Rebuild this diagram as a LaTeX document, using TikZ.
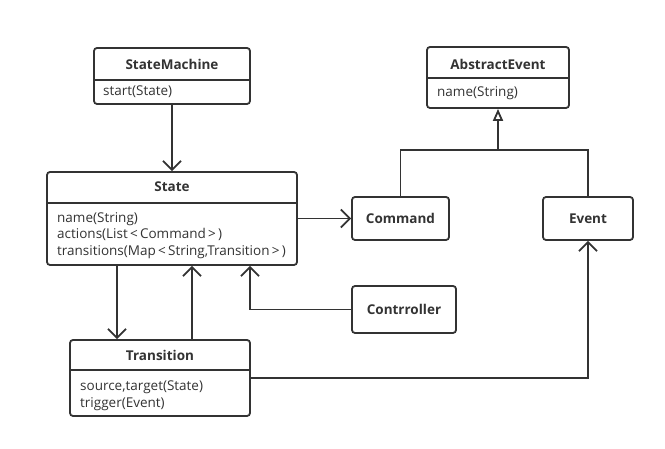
\documentclass[tikz,border=0pt]{standalone}
\usepackage{fontspec}
\setmainfont{Open Sans}
\usetikzlibrary{arrows.meta}
\definecolor{lc}{HTML}{333333}
\tikzset{
  box/.style={draw=lc, line width=1.8pt, rounded corners=3pt, inner sep=0pt, fill=white},
  ttl/.style={font=\bfseries\fontsize{13.5}{15}\selectfont, text=lc, inner sep=0pt},
  attr/.style={font=\fontsize{13.5}{16.5}\selectfont, text=lc, anchor=west, align=left, inner sep=0pt},
  divider/.style={draw=lc, line width=1.8pt},
  line/.style={draw=lc, line width=1.8pt},
  conn/.style={line, -{Straight Barb[length=9pt,width=18pt,line width=1.8pt]}},
  inherit/.style={line, -{Triangle[open,length=12pt,width=10pt,line width=1.8pt,fill=white]}},
}
\begin{document}
\begin{tikzpicture}[x=1pt,y=-1pt]
\useasboundingbox[fill=white] (0,0) rectangle (665,449);
% StateMachine
\node[box, minimum width=156pt, minimum height=56pt] (sm) at (172,76) {};
\node[ttl] (smt) at (172,64) {StateMachine};
\coordinate (smd) at (0,80);
\draw[divider] (sm.west |- smd) -- (sm.east |- smd);
\node[attr] (sma) at (103,92) {start(State)};
% State
\node[box, minimum width=250pt, minimum height=93pt] (st) at (172,218.5) {};
\node[ttl] (stt) at (172,187) {State};
\coordinate (std) at (0,203);
\draw[divider] (st.west |- std) -- (st.east |- std);
\node[attr] (sta) at (57,235.5) {name(String)\\actions(List\,<\,Command\,>\,)\\transitions(Map\,<\,String,Transition\,>\,)};
% Transition
\node[box, minimum width=180pt, minimum height=76pt] (tr) at (160,378) {};
\node[ttl] (trt) at (160,355) {Transition};
\coordinate (trd) at (0,370);
\draw[divider] (tr.west |- trd) -- (tr.east |- trd);
\node[attr] (tra) at (80,395.5) {source,target(State)\\trigger(Event)};
% AbstractEvent
\node[box, minimum width=142pt, minimum height=61pt] (ae) at (498,77.5) {};
\node[ttl] (aet) at (498,64) {AbstractEvent};
\coordinate (aed) at (0,78);
\draw[divider] (ae.west |- aed) -- (ae.east |- aed);
\node[attr] (aea) at (437,93) {name(String)};
% Command, Event, Controller
\node[box, ttl, minimum width=97pt, minimum height=43pt] (cm) at (400.5,218.5) {Command};
\node[box, ttl, minimum width=90pt, minimum height=43pt] (ev) at (588,218.5) {Event};
\node[box, ttl, minimum width=104pt, minimum height=47pt] (ct) at (404,309.5) {Contrroller};
% connectors
\coordinate (x117) at (117,0);
\coordinate (x192) at (192,0);
\coordinate (x250) at (250,0);
\coordinate (j) at (498,150);
\draw[conn] (sm.south) -- (st.north);
\draw[conn] (st.east) -- (cm.west);
\draw[conn] (st.south -| x117) -- (tr.north -| x117);
\draw[conn] (tr.north -| x192) -- (st.south -| x192);
\draw[conn] (ct.west) -| (st.south -| x250);
\draw[conn] (tr.east) -| (ev.south);
\draw[line] (cm.north) |- (j);
\draw[line] (ev.north) |- (j);
\draw[inherit] (j) -- (ae.south);
\end{tikzpicture}
\end{document}
